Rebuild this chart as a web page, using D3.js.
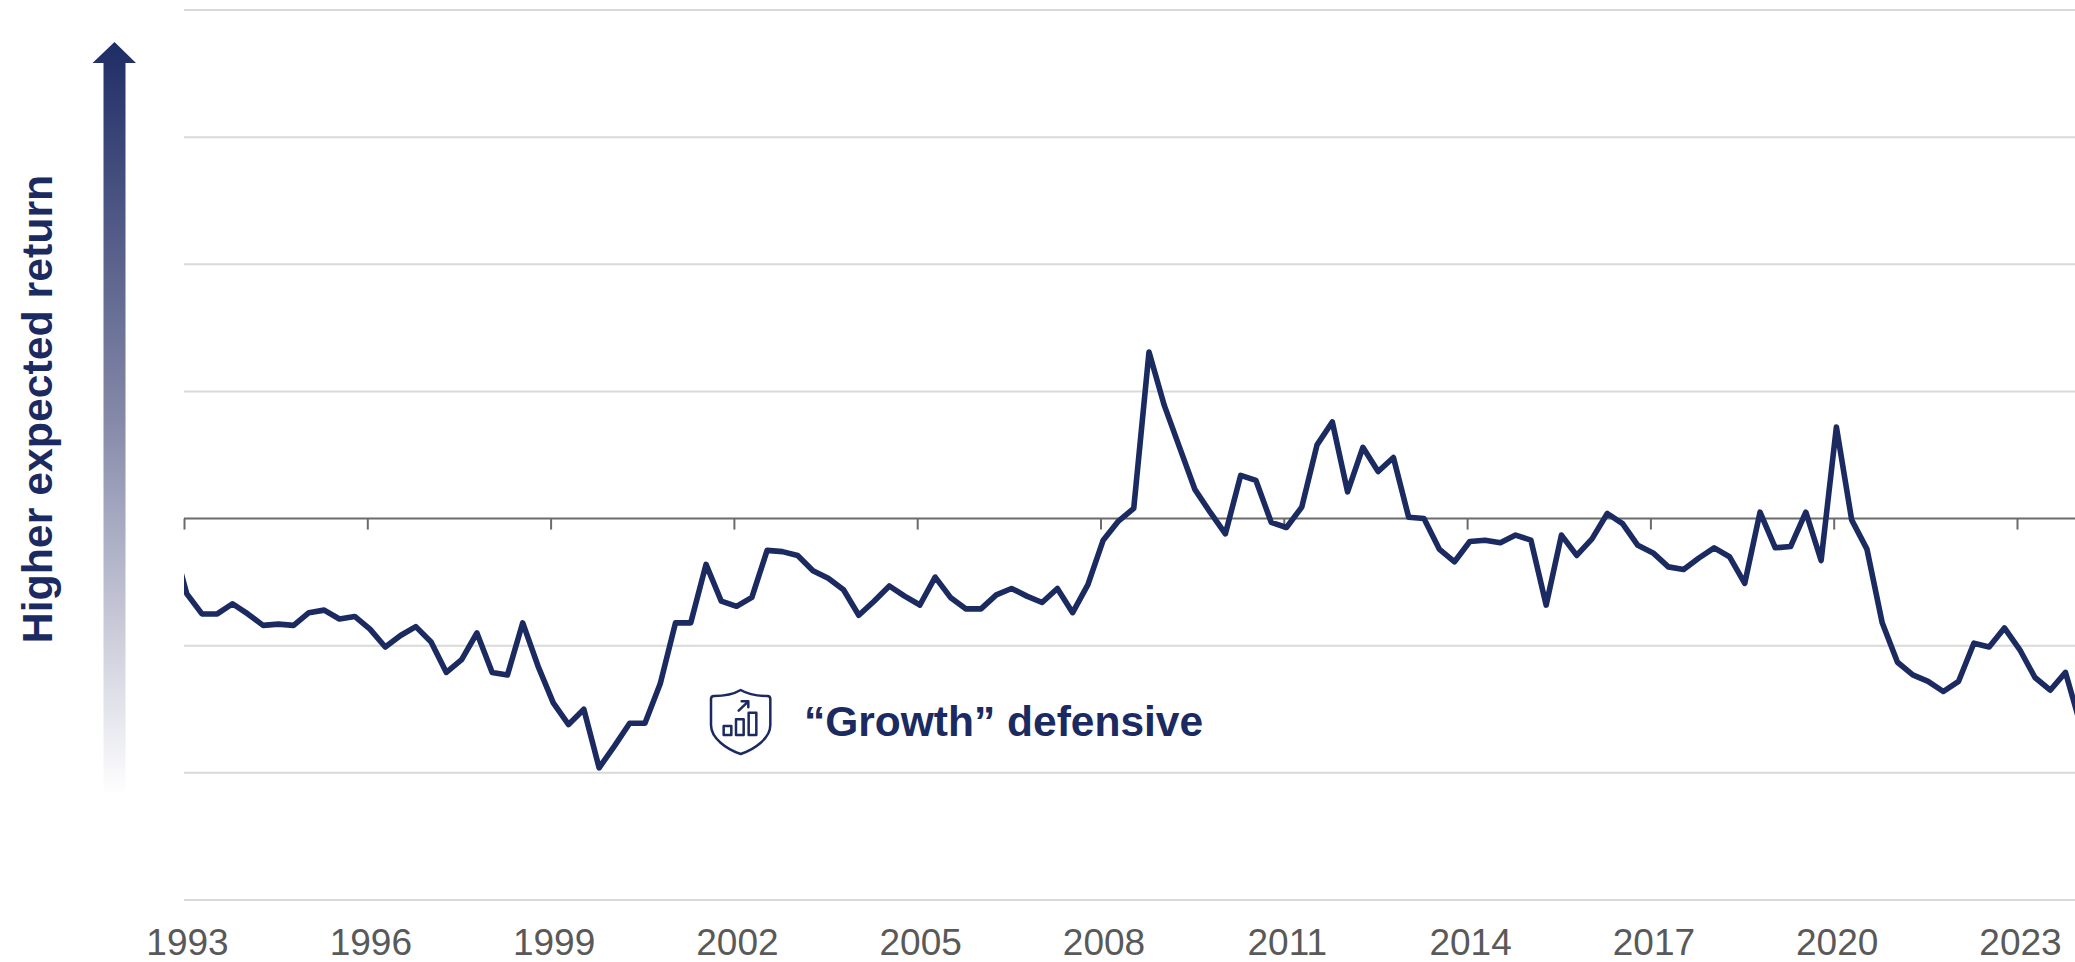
<!DOCTYPE html>
<html>
<head>
<meta charset="utf-8">
<script src="https://cdn.jsdelivr.net/npm/d3@7/dist/d3.min.js"></script>
<style>html,body{margin:0;padding:0;background:#fff;overflow:hidden}svg{display:block}</style>
</head>
<body>
<svg id="chart" width="2075" height="962"></svg>
<script>
const firstQuarter = 1992.794;
const tickYears = [1993,1996,1999,2002,2005,2008,2011,2014,2017,2020,2023];
const gridLevels = [-3,-2,-1,1,2,3,4];
const seriesValues = [
 -0.15,-0.59,-0.75,-0.75,-0.67,-0.75,-0.84,-0.83,-0.84,-0.74,-0.72,-0.79,-0.77,-0.87,-1.01,-0.92,-0.85,-0.97,-1.21,-1.11,
 -0.90,-1.21,-1.23,-0.82,-1.16,-1.45,-1.62,-1.50,-1.96,-1.79,-1.61,-1.61,-1.30,-0.82,-0.82,
 -0.36,-0.65,-0.69,-0.62,-0.25,-0.26,-0.29,-0.41,-0.47,-0.56,-0.76,-0.65,-0.53,-0.61,-0.68,-0.46,-0.62,-0.71,-0.71,-0.60,
 -0.55,-0.61,-0.66,-0.55,-0.74,-0.52,-0.17,-0.02,0.08,1.31,0.89,0.56,0.23,0.05,-0.12,0.34,0.30,-0.03,-0.07,0.09,0.58,0.76,
 0.21,0.56,0.37,
 0.48,0.01,0.00,-0.24,-0.34,-0.18,-0.17,-0.19,-0.13,-0.17,-0.68,-0.13,-0.29,-0.16,0.04,-0.04,-0.21,-0.27,-0.38,-0.40,
 -0.31,-0.23,-0.30,-0.51,0.05,-0.23,-0.22,0.05,-0.33,0.72,-0.01,-0.24,-0.82,-1.13,-1.23,-1.28,-1.36,-1.28,-0.98,-1.01,
 -0.86,-1.03,-1.25,-1.35,-1.21,-1.63
];
const seriesLabel = "\u201CGrowth\u201D defensive";
const axisTitle = "Higher expected return";

const navy = "#1b2a60";
const svg = d3.select("#chart");
const x = d3.scaleLinear().domain([1993,2023]).range([184,2017]);
const y = d3.scaleLinear().domain([-3,4]).range([900,10]);

const defs = svg.append("defs");
defs.append("clipPath").attr("id","plot").append("rect")
  .attr("x",184).attr("y",0).attr("width",1891).attr("height",962);
const grad = defs.append("linearGradient").attr("id","fade")
  .attr("x1",0).attr("y1",0).attr("x2",0).attr("y2",1);
grad.append("stop").attr("offset",0).attr("stop-color","#1f2d66");
grad.append("stop").attr("offset",0.5).attr("stop-color","#8589a8");
grad.append("stop").attr("offset",1).attr("stop-color","#ffffff");

// gridlines
svg.append("g").attr("class","grid").selectAll("line").data(gridLevels).join("line")
  .attr("x1",184).attr("x2",2075)
  .attr("y1",d=>y(d)).attr("y2",d=>y(d))
  .attr("stroke","#d9d9d9").attr("stroke-width",2);

// zero axis with ticks
const axisZero = svg.append("g").attr("transform",`translate(0,${y(0)})`)
  .call(d3.axisBottom(x).tickValues(tickYears).tickSize(11).tickFormat(""));
axisZero.select(".domain").remove();
axisZero.selectAll("line").attr("stroke","#6b6b6b").attr("stroke-width",2);
axisZero.append("line").attr("x1",184).attr("x2",2075).attr("stroke","#6b6b6b").attr("stroke-width",2);

// year labels
const axisLabels = svg.append("g").attr("transform",`translate(3,${y(-3)})`)
  .call(d3.axisBottom(x).tickValues(tickYears).tickSize(0).tickPadding(0).tickFormat(d3.format("d")));
axisLabels.select(".domain").remove();
axisLabels.selectAll("text")
  .attr("y",55).attr("dy",0)
  .attr("font-family","'Liberation Sans',Arial,sans-serif").attr("font-size",37)
  .attr("fill","#595959");

// series line
const line = d3.line().x((d,i)=>x(firstQuarter+i/4)).y(d=>y(d));
svg.append("path").datum(seriesValues)
  .attr("clip-path","url(#plot)")
  .attr("fill","none").attr("stroke",navy).attr("stroke-width",5.6)
  .attr("stroke-linejoin","round").attr("stroke-linecap","round")
  .attr("d",line);

// arrow
svg.append("path")
  .attr("d","M114.5 42 L136 63 L125.5 63 L125.5 795 L103.5 795 L103.5 63 L92.5 63 Z")
  .attr("fill","url(#fade)");

// axis title
svg.append("text").attr("transform","translate(52,409) rotate(-90)")
  .attr("text-anchor","middle")
  .attr("font-family","'Liberation Sans',Arial,sans-serif").attr("font-weight","700")
  .attr("font-size",42.8).attr("fill",navy).text(axisTitle);

// series label
svg.append("text").attr("x",804).attr("y",736)
  .attr("font-family","'Liberation Sans',Arial,sans-serif").attr("font-weight","700")
  .attr("font-size",42.5).attr("fill",navy).text(seriesLabel);

// shield icon
const icon = svg.append("g").attr("transform","translate(690,670) scale(0.3333)")
  .attr("fill","none").attr("stroke",navy).attr("stroke-width",7.5)
  .attr("stroke-linejoin","round").attr("stroke-linecap","round");
icon.append("path").attr("d","M152 60 C132 72 100 78 72 78 Q63 78 63 87 L63 165 C63 205 110 238 152 252 C194 238 241 205 241 165 L241 87 Q241 78 232 78 C204 78 172 72 152 60 Z");
icon.append("rect").attr("x",101).attr("y",168).attr("width",23).attr("height",27);
icon.append("rect").attr("x",138).attr("y",148).attr("width",23).attr("height",47);
icon.append("rect").attr("x",176).attr("y",128).attr("width",23).attr("height",67);
icon.append("path").attr("d","M146 122 L175 94 M155 94 L175 94 L175 112");
</script>
</body>
</html>
